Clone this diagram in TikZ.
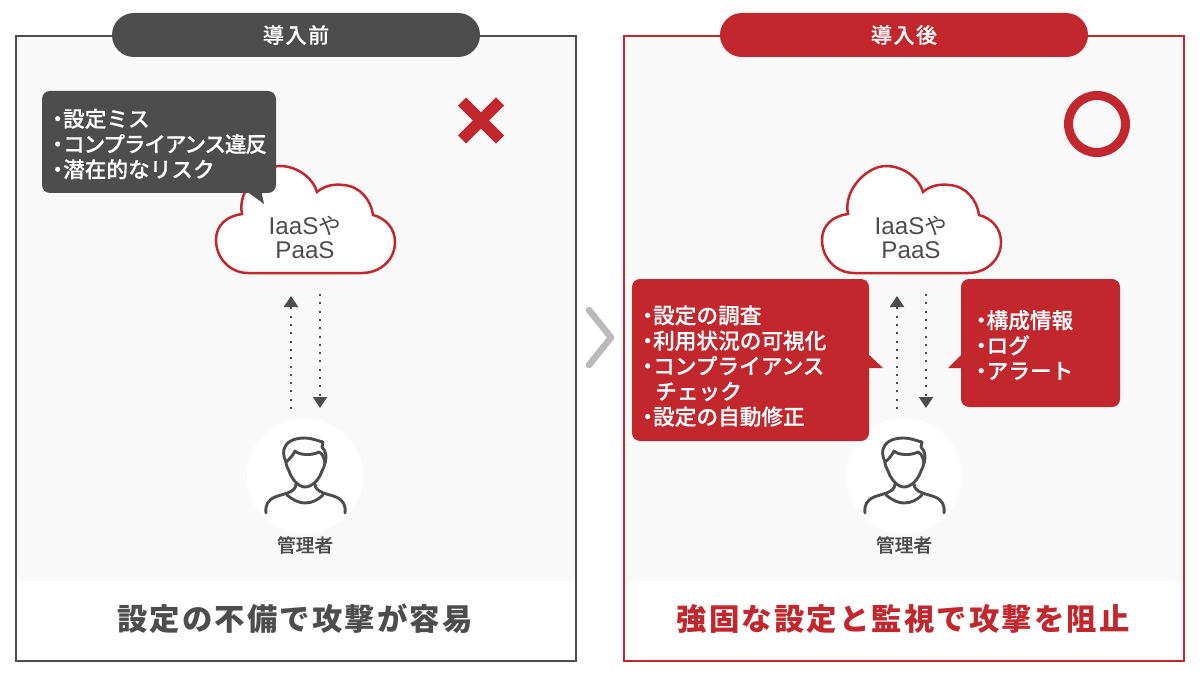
\documentclass[tikz,border=0pt]{standalone}
\usepackage{fontspec}
\usetikzlibrary{arrows.meta}
\setmainfont[FakeBold=0.25]{Noto Sans CJK JP Medium}
\newfontfamily\cjktrack[LetterSpace=7,FakeBold=0.25]{Noto Sans CJK JP Medium}
\newfontfamily\cjkfoot[LetterSpace=7]{Noto Sans CJK JP}
\newfontfamily\cjktight[LetterSpace=-5.5,FakeBold=0.25]{Noto Sans CJK JP Medium}
\newfontfamily\latinsans{Liberation Sans}
\newfontfamily\cjkplain{Noto Sans CJK JP}
\newcommand{\blt}{\makebox[0.5em][c]{・}}
\definecolor{panelgray}{HTML}{4D4D4D}
\definecolor{panelred}{HTML}{C1272D}
\definecolor{panelbg}{HTML}{F9F9F9}
\tikzset{
  panel/.style={line width=2.6*0.025cm,fill=none},
  pill/.style={rounded corners=22*0.025cm,minimum width=368*0.025cm,minimum height=44*0.025cm,inner sep=0pt,text=white,font=\fontsize{15}{18}\cjktrack},
  footer/.style={font=\fontsize{21.6}{26}\cjkfoot\bfseries,inner sep=0pt},
  notebox/.style={rounded corners=8*0.025cm,inner sep=0pt},
  notetext/.style={inner sep=0pt,align=left,text=white,font=\fontsize{15.4}{18}\selectfont},
  flow/.style={panelgray,line width=2*0.025cm,dash pattern=on 2*0.025cm off 6.3*0.025cm,-{Triangle[length=11*0.025cm,width=14*0.025cm]}},
  cloudtext/.style={align=center,text=panelgray,inner sep=0pt,font=\fontsize{17.2}{17}\latinsans},
  usercircle/.style={circle,fill=white,minimum size=116*0.025cm,inner sep=0pt},
  username/.style={text=panelgray,inner sep=0pt,font=\fontsize{13.3}{15}\selectfont},
  pics/cloudicon/.style={code={
    \draw[panelred,fill=white,line width=2.5*0.025cm] (-57,53) .. controls (-75,53) and (-89,38) .. (-89,20)
      .. controls (-89,5) and (-78,-4) .. (-63,-6)
      .. controls (-68,-30) and (-44,-54) .. (-25,-54)
      .. controls (-8,-54) and (8,-42) .. (12,-28)
      .. controls (20,-35) and (30,-36) .. (38,-35)
      .. controls (55,-34) and (66,-20) .. (68,-5)
      .. controls (80,-2) and (90,8) .. (90,22)
      .. controls (90,40) and (75,53) .. (57,53) -- cycle;
  }},
  pics/usericon/.style={code={
    \begin{scope}[panelgray,line width=2.9*0.025cm,line cap=round,line join=round]
    % hair and face
    \draw (-19,-14) .. controls (-22,-20) and (-22,-26) .. (-20,-29)
      .. controls (-17,-36) and (-8,-38) .. (0,-38)
      .. controls (7,-38) and (13,-35) .. (18,-34) -- (17,-29)
      .. controls (21,-25) and (22,-19) .. (20,-13);
    \draw (-19,-14) .. controls (-15,-17) and (-12,-21) .. (-10,-25)
      .. controls (-6,-21) and (6,-20) .. (14,-24)
      .. controls (18,-22) and (19,-18) .. (20,-13);
    \draw (-19,-14) .. controls (-19,-10) and (-17,-8) .. (-16,-5)
      .. controls (-13,4) and (-6,11) .. (0,11)
      .. controls (7,11) and (14,4) .. (17,-5)
      .. controls (18,-8) and (20,-10) .. (20,-13);
    % neck and shoulders
    \draw (-39,37) .. controls (-40,29) and (-37,24) .. (-30,21)
      .. controls (-23,18) and (-9,17) .. (-9,8);
    \draw (40,37) .. controls (41,29) and (38,24) .. (31,21)
      .. controls (24,18) and (10,17) .. (10,8);
    \draw (-18,19) .. controls (-12,24) and (-6,27) .. (0,27)
      .. controls (7,27) and (13,24) .. (18,19);
    \end{scope}
  }}
}
\begin{document}
\begin{tikzpicture}[x=0.025cm,y=-0.025cm]
\useasboundingbox (0,0) rectangle (1200,675);
% backgrounds
\fill[panelbg] (16,36) rectangle (576,581);
\fill[panelbg] (624,36) rectangle (1184,581);
\draw[panel,panelgray] (16,36) rectangle (576,661);
\draw[panel,panelred] (624,36) rectangle (1184,661);
\node[pill,fill=panelgray] (headL) at (296,35) {導入前};
\node[pill,fill=panelred] (headR) at (904,35) {導入後};
% chevron between the panels
\draw[line width=6.5*0.025cm,color=black!27,line cap=round,line join=round] (589,310) -- (611,337.5) -- (589,365);
% marks
\draw[panelred,line width=11.5*0.025cm] (462,101.5) -- (500,139.5) (500,101.5) -- (462,139.5);
\draw[panelred,line width=9*0.025cm] (1097,124) circle [radius=28.5];
% clouds
\pic at (305,220) {cloudicon};
\pic at (911,220) {cloudicon};
\node[cloudtext] (cloudL) at (305,237) {IaaS{\cjkplain\fontsize{16.2}{17}\selectfont や}\\PaaS};
\node[cloudtext] (cloudR) at (911,237) {IaaS{\cjkplain\fontsize{16.2}{17}\selectfont や}\\PaaS};
% users
\node[usercircle] (userL) at (305,476) {};
\node[usercircle] (userR) at (904,476) {};
\pic at (userL) {usericon};
\pic at (userR) {usericon};
\node[username] (nameL) at (305,545) {管理者};
\node[username] (nameR) at (904,545) {管理者};
% arrows
\coordinate (upLa) at (291,409);
\coordinate (upLb) at (291,296);
\coordinate (dnLa) at (320,294);
\coordinate (dnLb) at (320,408);
\coordinate (upRa) at (897,409);
\coordinate (upRb) at (897,296);
\coordinate (dnRa) at (926,294);
\coordinate (dnRb) at (926,408);
\draw[flow] (upLa) -- (upLb);
\draw[flow] (dnLa) -- (dnLb);
\draw[flow] (upRa) -- (upRb);
\draw[flow] (dnRa) -- (dnRb);
% callouts
\fill[panelgray] (245,190) -- (264,204) -- (261,190) -- cycle;
\node[notebox,fill=panelgray,minimum width=234*0.025cm,minimum height=102*0.025cm] (noteL) at (159,142) {};
\node[notetext,anchor=west] (textL) at (52,144)
  {\blt 設定ミス\\\blt {\cjktight コンプライアンス違反}\\\blt 潜在的なリスク};
\fill[panelred] (866,352) -- (883,368) -- (866,368) -- cycle;
\fill[panelred] (964,352) -- (948,368) -- (964,368) -- cycle;
\node[notebox,fill=panelred,minimum width=237*0.025cm,minimum height=162*0.025cm] (noteA) at (750.5,360) {};
\node[notetext,anchor=west] (textA) at (642,366)
  {\blt 設定の調査\\\blt 利用状況の可視化\\\blt コンプライアンス\\\hspace*{0.6em}チェック\\\blt 設定の自動修正};
\node[notebox,fill=panelred,minimum width=159*0.025cm,minimum height=128*0.025cm] (noteB) at (1040.5,343) {};
\node[notetext,anchor=west] (textB) at (975.5,345)
  {\blt 構成情報\\\blt ログ\\\blt アラート};
% footers
\node[footer,text=panelgray] (footL) at (295,619) {設定の不備で攻撃が容易};
\node[footer,text=panelred] (footR) at (903,619) {強固な設定と監視で攻撃を阻止};
\end{tikzpicture}
\end{document}
